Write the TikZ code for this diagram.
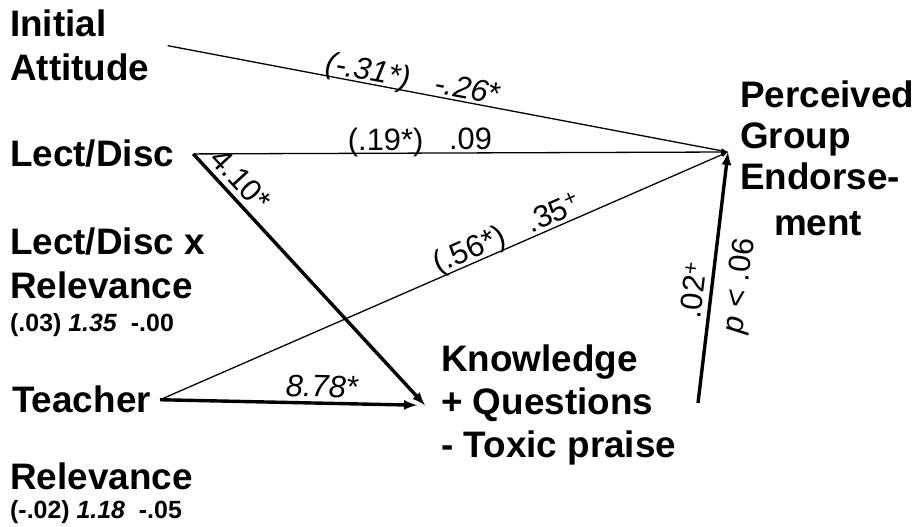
\documentclass[tikz,border=0pt]{standalone}
\usepackage{fontspec}
\setmainfont{Liberation Sans}

\begin{document}
\begin{tikzpicture}[x=1bp,y=-1bp,>=latex,
  var/.style={anchor=north west,inner sep=0pt,align=left,
    font=\fontsize{37}{44}\selectfont\bfseries},
  coef/.style={anchor=north west,inner sep=0pt,
    font=\fontsize{25}{28}\selectfont\bfseries},
  est/.style={inner sep=1pt,sloped,font=\fontsize{31}{34}\selectfont},
  lightpath/.style={line width=1.3bp,->},
  heavypath/.style={line width=3.4bp,->}]
  % Page frame, same proportions as the original slide.
  \useasboundingbox (0,0) rectangle (915,527);
  % Predictors down the left side.
  \node[var] (att) at (10,10) {Initial\\Attitude};
  \node[var] (lect) at (10,140) {Lect/Disc};
  \node[var] (inter) at (10,228) {Lect/Disc x\\Relevance};
  \node[coef] (intercoef) at (10,313) {(.03) \textit{1.35}~~-.00};
  \node[var] (teach) at (12,386) {Teacher};
  \node[var] (rel) at (10,463) {Relevance};
  \node[coef] (relcoef) at (10,500) {(-.02) \textit{1.18}~~-.05};
  % Mediator and outcome.
  \node[var,font=\fontsize{37}{43}\selectfont\bfseries] (know) at (441,345)
    {Knowledge\\+ Questions\\- Toxic praise};
  \node[var,font=\fontsize{37}{41}\selectfont\bfseries] (pge) at (740,81)
    {Perceived\\Group\\Endorse-\\[5bp]\hspace{34bp}ment};
  \coordinate (pgetip) at (728,152);
  \coordinate (low) at (698,403);
  % Direct paths into the outcome.
  \draw[lightpath] ([xshift=18bp]att.east) -- (pgetip)
    node[est,pos=.434,above=-5bp] {\textit{(-.31*)~~~-.26*}};
  \draw[lightpath] ([xshift=19bp]lect.east) -- (pgetip)
    node[est,pos=.424,above=-5bp] {(.19*)~~~.09};
  \draw[lightpath] ([xshift=9bp]teach.east) -- (pgetip)
    node[est,pos=.62,above=-4bp] {(.56*)~~~.35\textsuperscript{+}};
  % Paths into the mediator.
  \draw[heavypath] ([xshift=19bp]lect.east) -- ([xshift=-16bp]know.west)
    node[est,pos=.15,above=4bp] {4.10*};
  \draw[heavypath] ([xshift=9bp]teach.east) -- ([xshift=-24bp]know.west)
    node[est,pos=.63,above=3bp] {\textit{8.78*}};
  % Mediator to outcome.
  \draw[heavypath] (low) -- (pgetip)
    node[est,pos=.44,above=4bp] {.02\textsuperscript{+}}
    node[est,pos=.48,below=12bp] {\textit{p} < .06};
\end{tikzpicture}
\end{document}
